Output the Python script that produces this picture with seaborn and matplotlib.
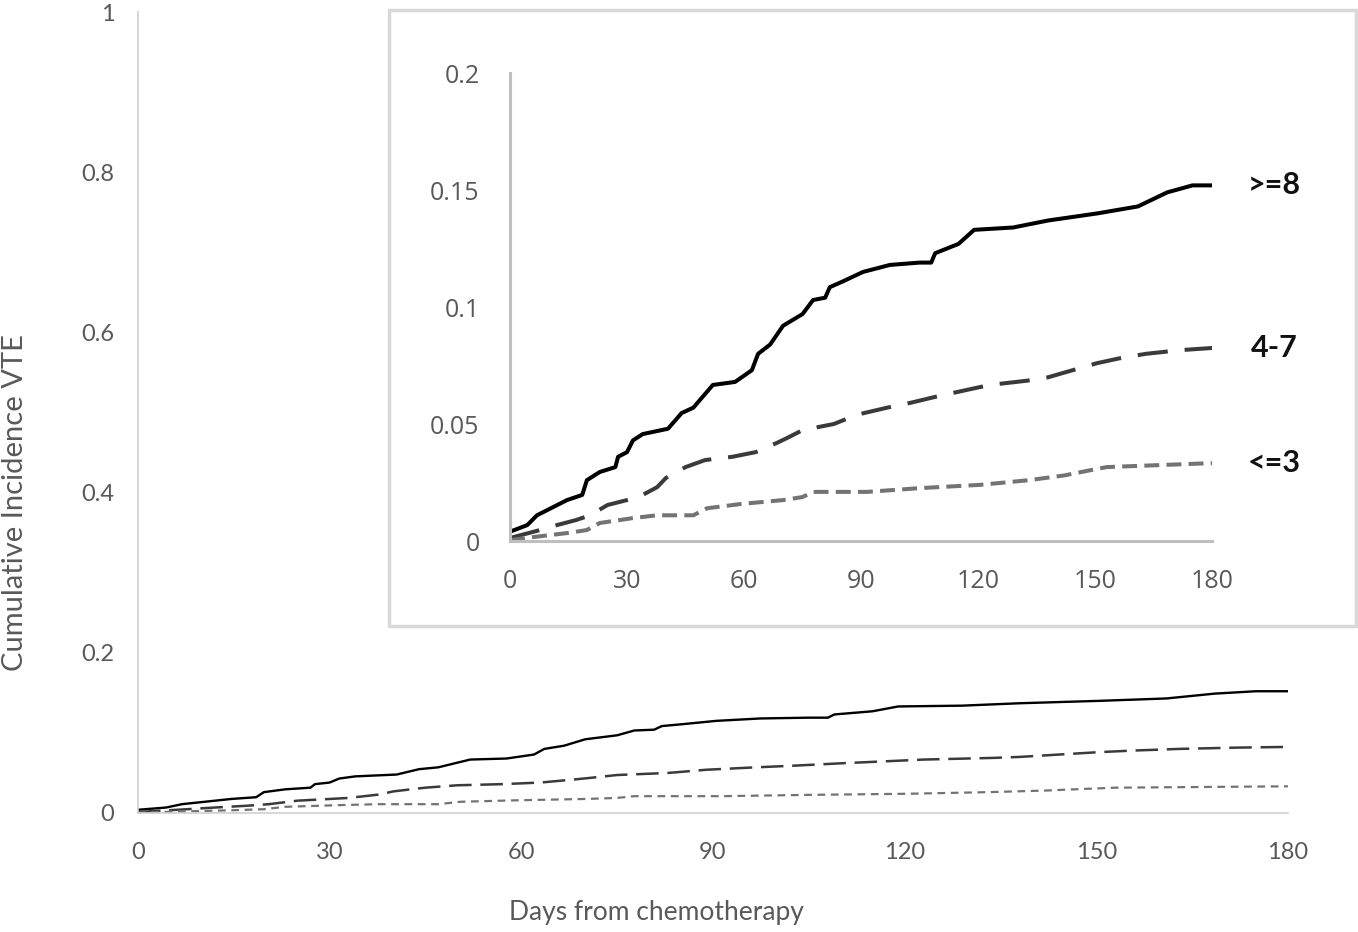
import pandas as pd
import matplotlib.pyplot as plt
import seaborn as sns
from matplotlib.patches import Rectangle

# Cumulative incidence of VTE by risk score group
high_days = [0, 4.4, 6.9, 14.6, 18.5, 19.7, 23, 27, 27.7, 30, 31.5, 34, 40.5, 44, 47, 52,
             57.7, 62, 63.6, 66.7, 70, 75, 77.7, 80.8, 82, 85.4, 90.5, 97.4, 105, 108,
             109, 115, 119, 129, 138, 150.5, 161, 168.5, 175, 180]
high_vals = [0.004, 0.0068, 0.011, 0.0175, 0.0197, 0.026, 0.0295, 0.0316, 0.036, 0.038,
             0.043, 0.0457, 0.048, 0.0547, 0.057, 0.0667, 0.068, 0.073, 0.080, 0.084,
             0.092, 0.097, 0.103, 0.104, 0.1085, 0.111, 0.115, 0.118, 0.119, 0.119,
             0.123, 0.127, 0.133, 0.134, 0.137, 0.140, 0.143, 0.149, 0.152, 0.152]

mid_days = [0, 7.7, 12, 17, 20.5, 25, 30, 33, 37.7, 40, 45, 50, 57, 63, 68.5, 71, 75, 83,
            89, 96.7, 102.5, 110, 123, 134, 138, 150.5, 156, 163, 172, 180]
mid_vals = [0.0013, 0.0047, 0.0068, 0.009, 0.011, 0.0154, 0.0175, 0.0188, 0.023, 0.027,
            0.0316, 0.0346, 0.036, 0.038, 0.042, 0.044, 0.0474, 0.050, 0.054, 0.057,
            0.059, 0.062, 0.0667, 0.0688, 0.070, 0.076, 0.078, 0.080, 0.0816, 0.0825]

low_days = [0, 6, 14.6, 19.7, 23, 31.5, 37.7, 47, 50.5, 59, 70, 75, 77.7, 91.5, 105,
            120.5, 133, 142, 148, 153, 180]
low_vals = [0.0004, 0.0017, 0.0034, 0.0047, 0.0077, 0.0098, 0.011, 0.011, 0.014, 0.0158,
            0.0175, 0.0188, 0.021, 0.021, 0.0226, 0.024, 0.026, 0.028, 0.030, 0.0316, 0.0333]

group_labels = [">=8", "4-7", "<=3"]

df = pd.concat([
    pd.DataFrame({"day": high_days, "vte": high_vals, "group": ">=8"}),
    pd.DataFrame({"day": mid_days, "vte": mid_vals, "group": "4-7"}),
    pd.DataFrame({"day": low_days, "vte": low_vals, "group": "<=3"}),
])

colors = {">=8": "#000000", "4-7": "#3a3a3a", "<=3": "#737373"}
main_styles = {">=8": "-", "4-7": (0, (9, 3.5)), "<=3": (0, (3.5, 2.5))}
main_lw = {">=8": 1.7, "4-7": 1.8, "<=3": 1.6}
inset_styles = {">=8": "-", "4-7": (0, (7.5, 4.2)), "<=3": (0, (3.7, 1.8))}

sns.set_style("white")
plt.rcParams['font.family'] = ['Lato', 'DejaVu Sans']

fig = plt.figure(figsize=(13.58, 9.32), dpi=100)

# main chart
ax = fig.add_axes([0.1016, 0.1277, 0.8468, 0.8594])
ax.set_facecolor("none")
for g in group_labels:
    sns.lineplot(data=df[df["group"] == g], x="day", y="vte", ax=ax, color=colors[g],
                 linestyle=main_styles[g], linewidth=main_lw[g], estimator=None)
ax.set_xlim(0, 180)
ax.set_ylim(0, 1)
ax.set_xticks(range(0, 181, 30))
ax.set_yticks([0, 0.2, 0.4, 0.6, 0.8, 1])
ax.set_yticklabels(["0", "0.2", "0.4", "0.6", "0.8", "1"])
ax.tick_params(axis="both", length=0, labelsize=17, colors="#595959")
ax.tick_params(axis="y", pad=17)
ax.tick_params(axis="x", pad=21)
sns.despine(ax=ax)
for s in ["left", "bottom"]:
    ax.spines[s].set_color("#d0d0d0")
    ax.spines[s].set_linewidth(1.2)
ax.set_xlabel("Days from chemotherapy", fontsize=19, color="#595959")
ax.set_ylabel("Cumulative Incidence VTE", fontsize=21, color="#595959")
ax.xaxis.set_label_coords(0.451, -0.109)
ax.yaxis.set_label_coords(-0.096, 0.387)

# inset frame
frame = Rectangle((0.2864, 0.3283), 0.7121, 0.661, transform=fig.transFigure,
                  facecolor="white", edgecolor="#d9d9d9", linewidth=2.5, zorder=1)
fig.add_artist(frame)

# inset chart
axi = fig.add_axes([0.3756, 0.4195, 0.5169, 0.5021], zorder=2)
axi.set_facecolor("none")
for g in group_labels:
    sub = df[df["group"] == g]
    sns.lineplot(data=sub, x="day", y="vte", ax=axi, color=colors[g],
                 linestyle=inset_styles[g], linewidth=2.9, estimator=None)
    axi.text(196, sub["vte"].iloc[-1], g, ha="center", va="center", fontsize=22,
             fontweight="bold", color="#111111", clip_on=False)
axi.set_xlim(0, 180)
axi.set_ylim(0, 0.2)
axi.set_xticks(range(0, 181, 30))
axi.set_yticks([0, 0.05, 0.1, 0.15, 0.2])
axi.set_yticklabels(["0", "0.05", "0.1", "0.15", "0.2"])
axi.tick_params(axis="both", length=0, labelsize=18, colors="#595959")
axi.tick_params(axis="y", pad=22)
axi.tick_params(axis="x", pad=20)
for lab in axi.get_xticklabels() + axi.get_yticklabels():
    lab.set_family(["Open Sans", "DejaVu Sans"])
sns.despine(ax=axi)
for s in ["left", "bottom"]:
    axi.spines[s].set_color("#bfbfbf")
    axi.spines[s].set_linewidth(2.2)
axi.set_xlabel("")
axi.set_ylabel("")

fig.savefig("out.png", dpi=100)
